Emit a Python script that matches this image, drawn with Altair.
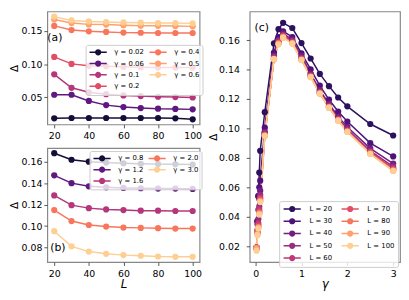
import altair as alt
import pandas as pd

# ---------------- data ----------------
L_values = [20, 30, 40, 50, 60, 70, 80, 90, 100]

# panel (a): Delta vs L for small gamma
gamma_a = ["0.02", "0.06", "0.1", "0.2", "0.4", "0.5", "0.6"]
delta_a_002 = [0.0185, 0.019, 0.019, 0.019, 0.019, 0.019, 0.019, 0.0185, 0.017]
delta_a_006 = [0.054, 0.054, 0.0447, 0.0384, 0.0355, 0.034, 0.033, 0.0326, 0.032]
delta_a_01 = [0.0848, 0.0645, 0.0577, 0.0548, 0.053, 0.052, 0.051, 0.0505, 0.050]
delta_a_02 = [0.111, 0.1005, 0.0976, 0.097, 0.096, 0.0955, 0.095, 0.095, 0.095]
delta_a_04 = [0.1577, 0.1515, 0.1495, 0.1486, 0.1476, 0.1474, 0.147, 0.147, 0.147]
delta_a_05 = [0.1674, 0.162, 0.160, 0.1597, 0.1587, 0.158, 0.1578, 0.1575, 0.157]
delta_a_06 = [0.1717, 0.166, 0.1645, 0.1635, 0.163, 0.1625, 0.162, 0.162, 0.1615]

# panel (b): Delta vs L for large gamma
gamma_b = ["0.8", "1.2", "1.6", "2.0", "3.0"]
delta_b_08 = [0.1682, 0.1621, 0.1603, 0.1594, 0.1588, 0.1583, 0.158, 0.1578, 0.1576]
delta_b_12 = [0.1475, 0.1402, 0.1372, 0.1363, 0.1357, 0.1354, 0.1351, 0.1351, 0.1348]
delta_b_16 = [0.1287, 0.1196, 0.1168, 0.1156, 0.115, 0.1144, 0.1144, 0.1141, 0.1141]
delta_b_20 = [0.115, 0.1047, 0.101, 0.0995, 0.0986, 0.0983, 0.098, 0.0977, 0.0977]
delta_b_30 = [0.0952, 0.081, 0.0761, 0.074, 0.0728, 0.0722, 0.0715, 0.0712, 0.0712]

# panel (c): Delta vs gamma for each L
gamma_c = [0.02, 0.04, 0.06, 0.08, 0.1, 0.2, 0.4, 0.5, 0.6, 0.8, 1.0, 1.2, 1.4, 1.6, 1.8, 2.0, 2.5, 3.0]
L_names = ["20", "30", "40", "50", "60", "70", "80", "90", "100"]
delta_c_L20 = [0.0185, 0.037, 0.054, 0.070, 0.0848, 0.111, 0.1577, 0.1674, 0.1717, 0.1682, 0.158, 0.1475, 0.137, 0.1287, 0.121, 0.115, 0.103, 0.0952]
delta_c_L30 = [0.019, 0.037, 0.054, 0.060, 0.0645, 0.1005, 0.1515, 0.162, 0.166, 0.1621, 0.151, 0.1402, 0.129, 0.1196, 0.1115, 0.1047, 0.090, 0.081]
delta_c_L40 = [0.019, 0.035, 0.0447, 0.052, 0.0577, 0.0976, 0.1495, 0.160, 0.1645, 0.1603, 0.1495, 0.1372, 0.126, 0.1168, 0.108, 0.101, 0.0865, 0.0761]
delta_c_L50 = [0.019, 0.031, 0.0384, 0.047, 0.0548, 0.097, 0.1486, 0.1597, 0.1635, 0.1594, 0.148, 0.1363, 0.125, 0.1156, 0.1068, 0.0995, 0.0848, 0.074]
delta_c_L60 = [0.019, 0.0295, 0.0355, 0.045, 0.053, 0.096, 0.1476, 0.1587, 0.163, 0.1588, 0.1475, 0.1357, 0.1245, 0.115, 0.1062, 0.0986, 0.084, 0.0728]
delta_c_L70 = [0.019, 0.029, 0.034, 0.0435, 0.052, 0.0955, 0.1474, 0.158, 0.1625, 0.1583, 0.147, 0.1354, 0.124, 0.1144, 0.1058, 0.0983, 0.0835, 0.0722]
delta_c_L80 = [0.019, 0.0285, 0.033, 0.0425, 0.051, 0.095, 0.147, 0.1578, 0.162, 0.158, 0.1468, 0.1351, 0.1238, 0.1144, 0.1056, 0.098, 0.0831, 0.0715]
delta_c_L90 = [0.0185, 0.028, 0.0326, 0.042, 0.0505, 0.095, 0.147, 0.1575, 0.162, 0.1578, 0.1466, 0.1351, 0.1237, 0.1141, 0.1054, 0.0977, 0.0828, 0.0712]
delta_c_L100 = [0.017, 0.0275, 0.032, 0.0415, 0.050, 0.095, 0.147, 0.157, 0.1615, 0.1576, 0.1464, 0.1348, 0.1236, 0.1141, 0.1053, 0.0977, 0.0826, 0.0712]

# ---------------- styles ----------------
colors_a = ["#150e38", "#5f187f", "#b5367a", "#e14d66", "#f8765c", "#fea16e", "#fecf92"]
colors_b = ["#150e38", "#5f187f", "#b5367a", "#f8765c", "#fecf92"]
colors_c = ["#2c115f", "#4f127b", "#721f81", "#982d80", "#bd3977", "#e24d66", "#f8765c", "#fea16e", "#fecf92"]

# legend handle: a line with a dot (unit = 3.5 px for symbolSize 49)
SYMBOL = ("M-2.5,0H2.5"
          "M0.69,0A0.69,0.69,0,1,1,-0.69,0A0.69,0.69,0,1,1,0.69,0"
          "M0.4,0A0.4,0.4,0,1,1,-0.4,0A0.4,0.4,0,1,1,0.4,0"
          "M0.13,0A0.13,0.13,0,1,1,-0.13,0A0.13,0.13,0,1,1,0.13,0")


def long_df(names, lists, xvals, sname, xname):
    rows = []
    for name, vals in zip(names, lists):
        for x, v in zip(xvals, vals):
            rows.append({sname: name, xname: x, "delta": v})
    return pd.DataFrame(rows)


def margin_domain(vals, frac=0.05):
    lo, hi = min(vals), max(vals)
    r = hi - lo
    return [lo - frac * r, hi + frac * r]


df_a = long_df(gamma_a, [delta_a_002, delta_a_006, delta_a_01, delta_a_02,
                         delta_a_04, delta_a_05, delta_a_06], L_values, "g", "L")
df_b = long_df(gamma_b, [delta_b_08, delta_b_12, delta_b_16, delta_b_20, delta_b_30],
               L_values, "g", "L")
df_c = long_df(L_names, [delta_c_L20, delta_c_L30, delta_c_L40, delta_c_L50, delta_c_L60,
                         delta_c_L70, delta_c_L80, delta_c_L90, delta_c_L100],
               gamma_c, "Lname", "gamma")


def panel(df, xfield, xticks, xfmt, xtitle, yticks, sfield, sorder, colors,
          legend, title, dx, dy, width, height, ylabpad, ytitlepad):
    return alt.Chart(df).mark_line(
        strokeWidth=1.5,
        point=alt.OverlayMarkDef(filled=True, size=40, opacity=1),
    ).encode(
        x=alt.X(f"{xfield}:Q",
                scale=alt.Scale(domain=margin_domain(df[xfield].tolist()), nice=False, zero=False),
                axis=alt.Axis(values=xticks, format=xfmt),
                title=xtitle),
        y=alt.Y("delta:Q",
                scale=alt.Scale(domain=margin_domain(df["delta"].tolist()), nice=False, zero=False),
                axis=alt.Axis(values=yticks, format=".2f", labelPadding=ylabpad,
                              titlePadding=ytitlepad, titleFontSize=10.5),
                title="Δ"),
        color=alt.Color(f"{sfield}:N", sort=sorder,
                        scale=alt.Scale(domain=sorder, range=colors),
                        legend=legend, title=None),
    ).properties(
        width=width, height=height,
        title=alt.TitleParams(text=title, anchor="start", frame="group", orient="top",
                              offset=0, dx=dx, dy=dy, baseline="alphabetic",
                              fontSize=11, fontWeight="normal", font="DejaVu Sans",
                              color="black"),
    )


def legend(values, prefix, x, y, colpad, rowpad, pad, fs, laboff):
    return alt.Legend(
        orient="none", legendX=x, legendY=y, columns=2, values=values,
        labelExpr=f"'{prefix} = ' + datum.label",
        symbolType=SYMBOL, symbolSize=49, symbolOffset=5.25, symbolStrokeWidth=1.5,
        labelFontSize=fs, labelOffset=laboff, columnPadding=colpad, rowPadding=rowpad,
        padding=pad, fillColor="rgba(255,255,255,0.8)", strokeColor="#cccccc",
        cornerRadius=2,
    )


chart_a = panel(df_a, "L", [20, 40, 60, 80, 100], "d", None, [0.05, 0.10, 0.15],
                "g", gamma_a, colors_a,
                legend(gamma_a, "γ", 39, 34, 2, 0.5, 3, 7, 12),
                "(a)", 0, 41, 155, 115, 2, 2)

chart_b = panel(df_b, "L", [20, 40, 60, 80, 100], "d", "L",
                [0.08, 0.10, 0.12, 0.14, 0.16],
                "g", gamma_b, colors_b,
                legend(gamma_b, "γ", 43, 3, 2, 0.5, 3, 7, 12),
                "(b)", 3, 116, 155, 116, 2, 2)

chart_c = panel(df_c, "gamma", [0, 1, 2, 3], "d", "γ",
                [0.02, 0.04, 0.06, 0.08, 0.10, 0.12, 0.14, 0.16],
                "Lname", L_names, colors_c,
                legend(L_names, "L", 30, 193, 6, 1.5, 3.5, 7, 13),
                "(c)", 5, 31, 153, 255, 7, 0)

left = alt.vconcat(chart_a, chart_b, spacing=24, bounds="flush").resolve_scale(
    color="independent").resolve_legend(color="independent")

chart = alt.hconcat(left, chart_c, spacing=3).resolve_scale(
    color="independent").resolve_legend(color="independent").properties(
    padding=0).configure_view(
    stroke="#888888", strokeWidth=1.2,
).configure_axis(
    domain=False, grid=False,
    labelFont="DejaVu Sans", labelFontSize=9.5, labelColor="#000000",
    tickColor="#444444", tickSize=3.5, tickWidth=0.9,
    titleFont="DejaVu Sans", titleFontSize=12, titleFontWeight="normal", titleColor="#000000",
).configure_axisX(
    labelPadding=3, titlePadding=1, titleFontStyle="italic",
).configure_legend(
    labelFont="DejaVu Sans", labelColor="#000000",
)

chart.save("out.html", embed_options={"renderer": "svg", "actions": False})
